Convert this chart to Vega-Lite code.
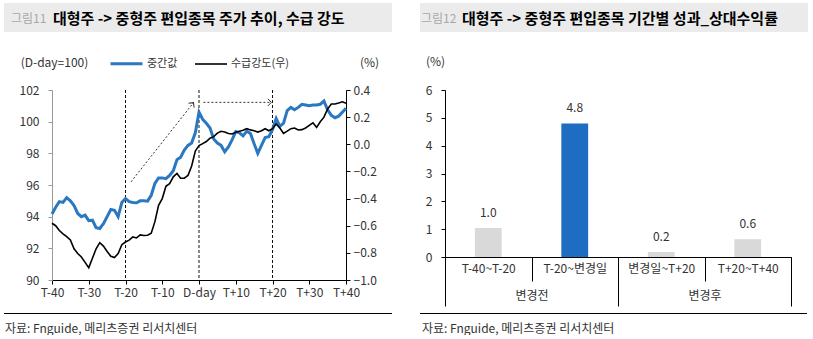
{
  "$schema": "https://vega.github.io/schema/vega-lite/v6.json",
  "padding": {"left": 4, "top": 3, "right": 0, "bottom": 0},
  "background": "#ffffff",
  "config": {
    "font": "Noto Sans CJK KR",
    "view": {"stroke": null},
    "axis": {"labelFont": "Noto Sans CJK KR", "labelFontSize": 12, "labelColor": "#333333", "titleFont": "Noto Sans CJK KR", "titleFontWeight": "normal", "titleFontSize": 12, "titleColor": "#333333", "grid": false},
    "legend": {"labelFont": "Noto Sans CJK KR"},
    "title": {"font": "Noto Sans CJK KR", "subtitleFont": "Noto Sans CJK KR"}
  },
  "datasets": {
    "series": [
      {"day": -40, "median": 94.17, "flow": -0.582},
      {"day": -39, "median": 94.6, "flow": -0.6},
      {"day": -38, "median": 94.95, "flow": -0.635},
      {"day": -37, "median": 94.9, "flow": -0.66},
      {"day": -36, "median": 95.2, "flow": -0.68},
      {"day": -35, "median": 95.0, "flow": -0.705},
      {"day": -34, "median": 94.7, "flow": -0.77},
      {"day": -33, "median": 94.2, "flow": -0.805},
      {"day": -32, "median": 94.0, "flow": -0.83},
      {"day": -31, "median": 94.1, "flow": -0.87},
      {"day": -30, "median": 93.75, "flow": -0.91},
      {"day": -29, "median": 93.78, "flow": -0.84},
      {"day": -28, "median": 93.3, "flow": -0.77},
      {"day": -27, "median": 93.25, "flow": -0.725},
      {"day": -26, "median": 93.55, "flow": -0.75},
      {"day": -25, "median": 94.0, "flow": -0.79},
      {"day": -24, "median": 94.45, "flow": -0.825},
      {"day": -23, "median": 94.4, "flow": -0.835},
      {"day": -22, "median": 94.0, "flow": -0.805},
      {"day": -21, "median": 94.9, "flow": -0.74},
      {"day": -20, "median": 95.15, "flow": -0.72},
      {"day": -19, "median": 94.95, "flow": -0.706},
      {"day": -18, "median": 94.9, "flow": -0.683},
      {"day": -17, "median": 94.88, "flow": -0.69},
      {"day": -16, "median": 95.0, "flow": -0.668},
      {"day": -15, "median": 95.0, "flow": -0.672},
      {"day": -14, "median": 94.98, "flow": -0.67},
      {"day": -13, "median": 95.35, "flow": -0.656},
      {"day": -12, "median": 96.1, "flow": -0.57},
      {"day": -11, "median": 96.45, "flow": -0.45},
      {"day": -10, "median": 96.45, "flow": -0.4},
      {"day": -9, "median": 96.4, "flow": -0.31},
      {"day": -8, "median": 96.6, "flow": -0.29},
      {"day": -7, "median": 96.9, "flow": -0.24},
      {"day": -6, "median": 97.6, "flow": -0.215},
      {"day": -5, "median": 97.75, "flow": -0.25},
      {"day": -4, "median": 98.2, "flow": -0.25},
      {"day": -3, "median": 98.5, "flow": -0.23},
      {"day": -2, "median": 98.65, "flow": -0.16},
      {"day": -1, "median": 99.3, "flow": -0.05},
      {"day": 0, "median": 100.6, "flow": -0.01},
      {"day": 1, "median": 100.15, "flow": 0.005},
      {"day": 2, "median": 99.9, "flow": 0.02},
      {"day": 3, "median": 99.6, "flow": 0.045},
      {"day": 4, "median": 98.9, "flow": 0.056},
      {"day": 5, "median": 98.65, "flow": 0.082},
      {"day": 6, "median": 98.5, "flow": 0.096},
      {"day": 7, "median": 98.1, "flow": 0.09},
      {"day": 8, "median": 98.4, "flow": 0.08},
      {"day": 9, "median": 98.85, "flow": 0.076},
      {"day": 10, "median": 99.37, "flow": 0.088},
      {"day": 11, "median": 99.3, "flow": 0.096},
      {"day": 12, "median": 99.1, "flow": 0.104},
      {"day": 13, "median": 99.4, "flow": 0.115},
      {"day": 14, "median": 99.25, "flow": 0.106},
      {"day": 15, "median": 98.6, "flow": 0.1},
      {"day": 16, "median": 98.0, "flow": 0.09},
      {"day": 17, "median": 98.5, "flow": 0.1},
      {"day": 18, "median": 99.0, "flow": 0.115},
      {"day": 19, "median": 99.05, "flow": 0.1},
      {"day": 20, "median": 99.5, "flow": 0.115},
      {"day": 21, "median": 100.2, "flow": 0.15},
      {"day": 22, "median": 99.7, "flow": 0.12},
      {"day": 23, "median": 99.9, "flow": 0.08},
      {"day": 24, "median": 100.7, "flow": 0.097},
      {"day": 25, "median": 100.9, "flow": 0.115},
      {"day": 26, "median": 100.75, "flow": 0.12},
      {"day": 27, "median": 100.9, "flow": 0.105},
      {"day": 28, "median": 101.1, "flow": 0.108},
      {"day": 29, "median": 101.05, "flow": 0.12},
      {"day": 30, "median": 101.0, "flow": 0.14},
      {"day": 31, "median": 101.05, "flow": 0.158},
      {"day": 32, "median": 101.05, "flow": 0.125},
      {"day": 33, "median": 101.1, "flow": 0.166},
      {"day": 34, "median": 101.3, "flow": 0.2},
      {"day": 35, "median": 100.75, "flow": 0.26},
      {"day": 36, "median": 100.4, "flow": 0.297},
      {"day": 37, "median": 100.25, "flow": 0.297},
      {"day": 38, "median": 100.35, "flow": 0.304},
      {"day": 39, "median": 100.6, "flow": 0.313},
      {"day": 40, "median": 100.84, "flow": 0.302}
    ],
    "arrows": [
      {"arrow": "diag", "day": -18.5, "val": 96.2, "head": false},
      {"arrow": "diag", "day": -1.5, "val": 101.2, "head": true},
      {"arrow": "horiz", "day": 1.2, "val": 101.22, "head": false},
      {"arrow": "horiz", "day": 19.7, "val": 101.22, "head": true}
    ],
    "marks": [{"day": -20}, {"day": 0}, {"day": 20}],
    "bars": [
      {"period": "T-40~T-20", "group": "변경전", "ret": 1.04},
      {"period": "T-20~변경일", "group": "변경전", "ret": 4.8},
      {"period": "변경일~T+20", "group": "변경후", "ret": 0.18},
      {"period": "T+20~T+40", "group": "변경후", "ret": 0.64}
    ],
    "blank": [{}]
  },
  "spacing": 14,
  "vconcat": [
    {
      "spacing": 28,
      "hconcat": [
        {
          "title": {"text": "그림11", "color": "#a8a8a8", "fontSize": 12, "fontWeight": "normal", "anchor": "start", "frame": "group", "orient": "top", "offset": -22.5, "dx": 7, "zindex": 1},
          "vconcat": [
            {
              "width": 388, "height": 29,
              "view": {"fill": "#ebebeb", "stroke": null},
              "data": {"name": "blank"},
              "mark": {"type": "text", "text": ""},
              "title": {"text": "대형주 -> 중형주 편입종목 주가 추이, 수급 강도", "color": "#000000", "fontSize": 15, "fontWeight": "bold", "anchor": "start", "frame": "group", "orient": "top", "offset": -23.5, "dx": 49, "zindex": 1}
            }
          ]
        },
        {
          "title": {"text": "그림12", "color": "#a8a8a8", "fontSize": 12, "fontWeight": "normal", "anchor": "start", "frame": "group", "orient": "top", "offset": -22.5, "dx": 1, "zindex": 1},
          "vconcat": [
            {
              "width": 388, "height": 29,
              "view": {"fill": "#ebebeb", "stroke": null},
              "data": {"name": "blank"},
              "mark": {"type": "text", "text": ""},
              "title": {"text": "대형주 -> 중형주 편입종목 기간별 성과_상대수익률", "color": "#000000", "fontSize": 15, "fontWeight": "bold", "anchor": "start", "frame": "group", "orient": "top", "offset": -23.5, "dx": 42, "zindex": 1}
            }
          ]
        }
      ]
    },
    {
      "spacing": 0,
      "vconcat": [
        {
          "spacing": 14,
          "hconcat": [
            {
              "width": 1, "height": 1,
              "data": {"name": "blank"},
              "mark": {"type": "text", "text": ""}
            },
            {
              "spacing": 46,
              "resolve": {"scale": {"color": "independent", "strokeWidth": "independent"}},
              "hconcat": [
                {
                  "width": 294, "height": 190,
                  "layer": [
                    {
                      "layer": [
                        {
                          "data": {"name": "marks"},
                          "mark": {"type": "rule", "strokeDash": [3, 2], "color": "#111111", "strokeWidth": 1},
                          "encoding": {"x": {"field": "day", "type": "quantitative"}}
                        },
                        {
                          "data": {"name": "arrows"},
                          "mark": {"type": "line", "strokeDash": [2, 2], "color": "#333333", "strokeWidth": 1},
                          "encoding": {
                            "x": {"field": "day", "type": "quantitative"},
                            "y": {"field": "val", "type": "quantitative"},
                            "detail": {"field": "arrow", "type": "nominal"}
                          }
                        },
                        {
                          "data": {"name": "arrows"},
                          "transform": [{"filter": "datum.head && datum.arrow == 'diag'"}],
                          "mark": {"type": "point", "shape": "M-1,-1L0,0L-1,1", "angle": 308, "size": 50, "filled": false, "color": "#333333", "strokeWidth": 1, "opacity": 1},
                          "encoding": {
                            "x": {"field": "day", "type": "quantitative"},
                            "y": {"field": "val", "type": "quantitative"}
                          }
                        },
                        {
                          "data": {"name": "arrows"},
                          "transform": [{"filter": "datum.head && datum.arrow == 'horiz'"}],
                          "mark": {"type": "point", "shape": "M-1,-1L0,0L-1,1", "angle": 0, "size": 50, "filled": false, "color": "#333333", "strokeWidth": 1, "opacity": 1},
                          "encoding": {
                            "x": {"field": "day", "type": "quantitative"},
                            "y": {"field": "val", "type": "quantitative"}
                          }
                        },
                        {
                          "data": {"name": "series"},
                          "transform": [{"fold": ["median", "flow"], "as": ["key", "val"]}, {"filter": "datum.key == 'median'"}],
                          "mark": {"type": "line"},
                          "encoding": {
                            "x": {"field": "day", "type": "quantitative",
                              "scale": {"domain": [-40, 40], "nice": false, "zero": false},
                              "axis": {"title": null, "values": [-40, -30, -20, -10, 0, 10, 20, 30, 40], "tickCount": 9,
                                "labelExpr": "datum.value == 0 ? 'D-day' : (datum.value < 0 ? 'T' + datum.value : 'T+' + datum.value)",
                                "domainColor": "#000000", "tickColor": "#000000", "tickSize": 4, "labelPadding": 3, "labelFlush": false, "labelOverlap": false, "labelSeparation": 0}},
                            "y": {"field": "val", "type": "quantitative",
                              "scale": {"domain": [90, 102], "nice": false, "zero": false},
                              "axis": {"orient": "left", "values": [90, 92, 94, 96, 98, 100, 102], "tickCount": 7, "labelOverlap": false, "labelSeparation": 0, "title": "(D-day=100)", "titleAngle": 0, "titleX": 2, "titleY": -28, "titleAlign": "center", "titleBaseline": "middle",
                                "domainColor": "#999999", "tickColor": "#999999", "tickSize": 4, "labelPadding": 9}},
                            "color": {"field": "key", "type": "nominal",
                              "scale": {"domain": ["median", "flow"], "range": ["#2b78c2", "#000000"]},
                              "legend": {"orient": "none", "legendX": 57, "legendY": -44, "direction": "horizontal", "title": null, "symbolType": "stroke", "symbolSize": 1024,
                                "labelFontSize": 11, "labelColor": "#333333", "labelOffset": 3, "columnPadding": 13, "padding": 0,
                                "labelExpr": "datum.label == 'median' ? '중간값' : '수급강도(우)'"}},
                            "strokeWidth": {"field": "key", "type": "nominal",
                              "scale": {"type": "point", "padding": 0, "domain": ["median", "flow"], "range": [3, 1.6]},
                              "legend": {"orient": "none", "legendX": 57, "legendY": -44, "direction": "horizontal", "title": null, "symbolType": "stroke", "symbolSize": 1024,
                                "labelFontSize": 11, "labelColor": "#333333", "labelOffset": 3, "columnPadding": 13, "padding": 0,
                                "labelExpr": "datum.label == 'median' ? '중간값' : '수급강도(우)'"}}
                          }
                        }
                      ]
                    },
                    {
                      "data": {"name": "series"},
                      "transform": [{"fold": ["median", "flow"], "as": ["key", "val"]}, {"filter": "datum.key == 'flow'"}],
                      "mark": {"type": "line"},
                      "encoding": {
                        "x": {"field": "day", "type": "quantitative",
                          "axis": {"title": null, "values": [-40, -30, -20, -10, 0, 10, 20, 30, 40], "tickCount": 9,
                            "labelExpr": "datum.value == 0 ? 'D-day' : (datum.value < 0 ? 'T' + datum.value : 'T+' + datum.value)",
                            "domainColor": "#000000", "tickColor": "#000000", "tickSize": 4, "labelPadding": 3, "labelFlush": false, "labelOverlap": false, "labelSeparation": 0}},
                        "y": {"field": "val", "type": "quantitative",
                          "scale": {"domain": [-1.0, 0.4], "nice": false, "zero": false},
                          "axis": {"orient": "right", "values": [-1.0, -0.8, -0.6, -0.4, -0.2, 0.0, 0.2, 0.4], "tickCount": 8, "labelOverlap": false, "labelSeparation": 0, "format": ".1f", "title": "(%)", "titleAngle": 0, "titleX": 23, "titleY": -28, "titleAlign": "center", "titleBaseline": "middle",
                            "domainColor": "#000000", "tickColor": "#000000", "tickSize": 4, "labelPadding": 3}},
                        "color": {"field": "key", "type": "nominal", "scale": {"domain": ["median", "flow"], "range": ["#2b78c2", "#000000"]}},
                        "strokeWidth": {"field": "key", "type": "nominal", "scale": {"type": "point", "padding": 0, "domain": ["median", "flow"], "range": [3, 1.6]}}
                      }
                    }
                  ],
                  "resolve": {"scale": {"y": "independent"}}
                },
                {
                  "width": 346, "height": 167,
                  "layer": [
                    {
                      "layer": [
                        {
                          "data": {"name": "bars"},
                          "mark": {"type": "bar", "width": {"band": 0.31}},
                          "encoding": {
                            "x": {"field": "period", "type": "nominal", "sort": null,
                              "scale": {"paddingInner": 0, "paddingOuter": 0},
                              "axis": {"title": null, "tickBand": "extent", "tickSize": 24, "labelPadding": -18, "labelAngle": 0, "domainColor": "#000000", "tickColor": "#000000"}},
                            "y": {"field": "ret", "type": "quantitative",
                              "scale": {"domain": [0, 6], "nice": false, "zero": true},
                              "axis": {"values": [0, 1, 2, 3, 4, 5, 6], "tickCount": 7, "labelOverlap": false, "labelSeparation": 0, "title": "(%)", "titleAngle": 0, "titleX": -10, "titleY": -29, "titleAlign": "center", "titleBaseline": "middle",
                                "domainColor": "#000000", "tickColor": "#000000", "tickSize": 4, "labelPadding": 9}},
                            "color": {"condition": {"test": "datum.period == 'T-20~변경일'", "value": "#1f6dc2"}, "value": "#d9d9d9"}
                          }
                        },
                        {
                          "data": {"name": "bars"},
                          "mark": {"type": "text", "dy": -15, "fontSize": 12, "color": "#333333", "baseline": "middle"},
                          "encoding": {
                            "x": {"field": "period", "type": "nominal", "sort": null},
                            "y": {"field": "ret", "type": "quantitative",
                              "axis": {"values": [0, 1, 2, 3, 4, 5, 6], "tickCount": 7, "labelOverlap": false, "labelSeparation": 0, "title": "(%)", "titleAngle": 0, "titleX": -10, "titleY": -29, "titleAlign": "center", "titleBaseline": "middle",
                                "domainColor": "#000000", "tickColor": "#000000", "tickSize": 4, "labelPadding": 9}},
                            "text": {"field": "ret", "type": "quantitative", "format": ".1f"}
                          }
                        }
                      ]
                    },
                    {
                      "data": {"name": "bars"},
                      "mark": {"type": "point", "opacity": 0},
                      "encoding": {
                        "x": {"field": "group", "type": "nominal", "sort": null,
                          "scale": {"paddingInner": 0, "paddingOuter": 0},
                          "axis": {"title": null, "orient": "bottom", "tickBand": "extent", "tickSize": 49, "domain": false, "labelPadding": -16, "labelAngle": 0, "tickColor": "#000000"}}
                      }
                    }
                  ],
                  "resolve": {"scale": {"x": "independent"}}
                }
              ]
            }
          ]
        },
        {
          "spacing": 28,
          "hconcat": [
            {
              "width": 388, "height": 1,
              "view": {"fill": "#000000", "stroke": null},
              "data": {"name": "blank"},
              "mark": {"type": "text", "text": ""},
              "title": {"text": "자료: Fnguide, 메리츠증권 리서치센터", "orient": "bottom", "anchor": "start", "frame": "group", "offset": 5, "fontSize": 12, "fontWeight": "normal", "color": "#333333", "dx": 1}
            },
            {
              "width": 387, "height": 1,
              "view": {"fill": "#000000", "stroke": null},
              "data": {"name": "blank"},
              "mark": {"type": "text", "text": ""},
              "title": {"text": "자료: Fnguide, 메리츠증권 리서치센터", "orient": "bottom", "anchor": "start", "frame": "group", "offset": 5, "fontSize": 12, "fontWeight": "normal", "color": "#333333", "dx": 2}
            }
          ]
        }
      ]
    }
  ]
}
